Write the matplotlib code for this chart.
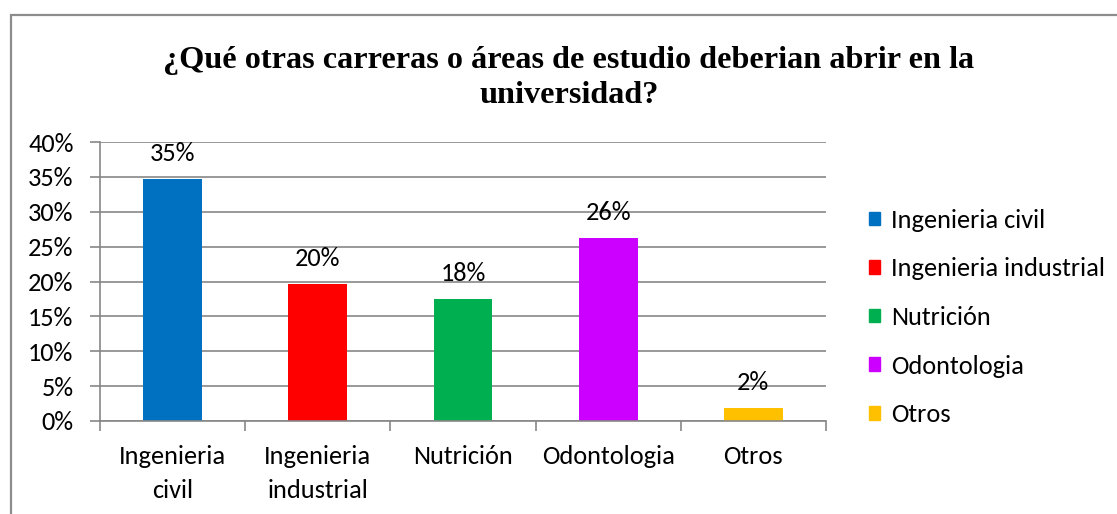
import matplotlib
matplotlib.use("Agg")
import matplotlib.pyplot as plt
from matplotlib.patches import Rectangle
import warnings
warnings.filterwarnings("ignore")

categories = ["Ingenieria civil", "Ingenieria industrial", "Nutrición", "Odontologia", "Otros"]
tick_labels = ["Ingenieria\ncivil", "Ingenieria\nindustrial", "Nutrición", "Odontologia", "Otros"]
values = [0.347, 0.196, 0.175, 0.262, 0.018]
data_labels = ["35%", "20%", "18%", "26%", "2%"]
yticks = [0, 0.05, 0.10, 0.15, 0.20, 0.25, 0.30, 0.35, 0.40]
ytick_labels = ["0%", "5%", "10%", "15%", "20%", "25%", "30%", "35%", "40%"]
colors = ["#0070C0", "#FF0000", "#00B050", "#CC00FF", "#FFC000"]
title = "¿Qué otras carreras o áreas de estudio deberian abrir en la\nuniversidad?"

plt.rcParams['font.family'] = ['Carlito', 'Lato', 'DejaVu Sans']
FS = 19
GRAY = "#878787"

W, H = 1117, 514
fig = plt.figure(figsize=(W / 100, H / 100), dpi=100)
fig.patch.set_facecolor("white")

# outer chart border
fig.patches.append(Rectangle((11 / W, -0.1), 1.2, 1 - 15 / H + 0.1, transform=fig.transFigure,
                             fill=False, edgecolor="#8c8c8c", linewidth=1.6))

ax = fig.add_axes([100 / W, 1 - 421 / H, (826 - 100) / W, (421 - 142) / H])
x = list(range(len(categories)))
bars = ax.bar(x, values, width=0.406, color=colors, zorder=3)

ax.set_ylim(0, 0.40)
ax.set_xlim(-0.5, len(categories) - 0.5)
ax.set_yticks(yticks)
ax.set_yticklabels(ytick_labels, fontsize=FS)
ax.yaxis.grid(True, color=GRAY, linewidth=1.2, zorder=0)
ax.set_axisbelow(True)

ax.set_xticks(x)
ax.set_xticklabels(tick_labels, fontsize=FS, linespacing=1.6, va="top")
ax.tick_params(axis="x", length=0, pad=17)
ax.set_xticks([i - 0.5 for i in range(len(categories) + 1)], minor=True)
ax.tick_params(axis="x", which="minor", length=7, width=1.2, color=GRAY, direction="out")
ax.tick_params(axis="y", length=7, width=1.2, color=GRAY, pad=12)

for s in ["top", "right"]:
    ax.spines[s].set_visible(False)
for s in ["bottom", "left"]:
    ax.spines[s].set_color(GRAY)
    ax.spines[s].set_linewidth(1.2)
    ax.spines[s].set_zorder(4)

for xi, v, lab in zip(x, values, data_labels):
    ax.annotate(lab, (xi, v), xytext=(0, 18.5), textcoords="offset points",
                ha="center", va="center", fontsize=FS, color="black")

fig.text(569 / W, 1 - 78 / H, title, ha="center", va="center", fontsize=23.2,
         fontweight="bold", family=["Liberation Serif", "DejaVu Serif"],
         multialignment="center", linespacing=1.3)

handles = [Rectangle((0, 0), 1, 1, color=c) for c in colors]
leg = fig.legend(handles, categories, loc="center left",
                 bbox_to_anchor=(869 / W, 1 - 317.5 / H), frameon=False, fontsize=FS,
                 handlelength=0.42, handleheight=0.42, handletextpad=0.42,
                 labelspacing=0.97, borderpad=0, borderaxespad=0)

fig.savefig("out.png", dpi=100, facecolor="white")
